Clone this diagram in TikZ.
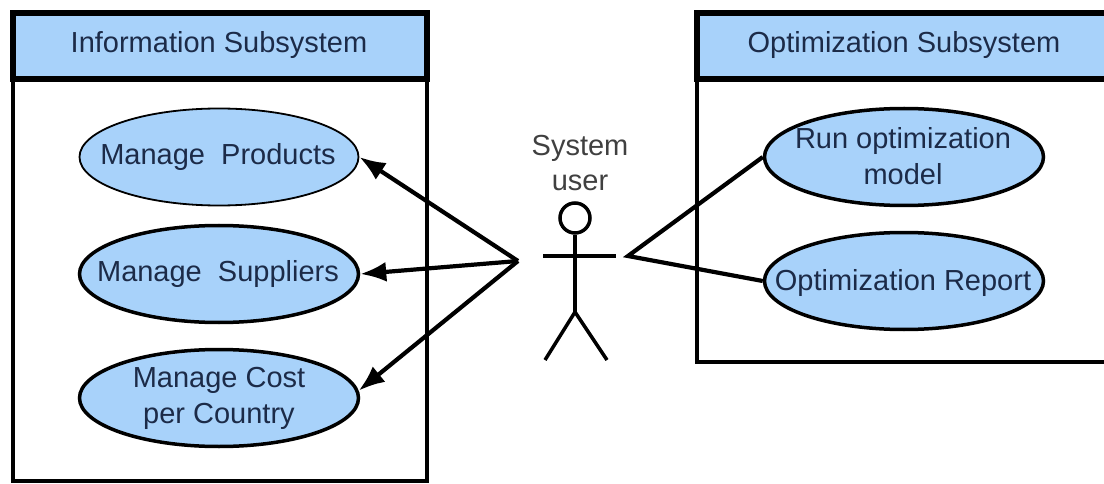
\documentclass[tikz,border=0pt]{standalone}
\usepackage{fontspec}
\setmainfont{Liberation Sans}
\usetikzlibrary{arrows.meta,shapes.geometric}
\definecolor{blueFill}{HTML}{A8D2FA}
\definecolor{inkText}{HTML}{1C2B48}
\tikzset{
  x=1pt,y=-1pt,
  uc/.style={ellipse,draw=black,fill=blueFill,line width=#1,minimum width=279pt,minimum height=97pt,inner sep=0pt},
  uc/.default=3.5pt,
  uctext/.style={align=center,text=inkText,font=\fontsize{29}{36}\selectfont,inner sep=0pt},
  hdr/.style={text=inkText,font=\fontsize{29}{34}\selectfont,anchor=center},
  sysframe/.style={draw=black,line width=3.5pt,fill=white},
  hdrband/.style={draw=black,line width=5.5pt,fill=blueFill},
  link/.style={draw=black,line width=4.2pt},
  assoc/.style={link,-{Latex[length=26pt,width=20pt]}},
  person/.style={draw=black,line width=3.5pt},
  lbl/.style={text=black!75,font=\fontsize{29}{35}\selectfont,align=center}
}
\begin{document}
\begin{tikzpicture}
\useasboundingbox (0,0) rectangle (1104,484);
% Information subsystem
\draw[sysframe] (13,14) rectangle (427,481);
\draw[hdrband] (13,13) rectangle (427,79);
\node[hdr] (infoT) at (219,45) {Information Subsystem};
\node[uc=1.8pt] (prod) at (219,157) {};
\node[uc] (supp) at (219,274) {};
\node[uc] (cost) at (219,398) {};
\node[uctext] (prodT) at (218,157) {Manage\ \ Products};
\node[uctext] (suppT) at (218,274) {Manage\ \ Suppliers};
\node[uctext] (costT) at (219,398) {Manage Cost\\per Country};
% Optimization subsystem
\draw[sysframe] (697,14) rectangle (1120,362);
\draw[hdrband] (697,13) rectangle (1120,79);
\node[hdr] (optT) at (904,45) {Optimization Subsystem};
% Actor
\node[lbl] (actorL) at (580,163) {System\\user};
\node[circle,person,minimum size=30pt,inner sep=0pt] (head) at (575,218) {};
\coordinate (hip) at (575,312);
\coordinate (armL) at (543,256);
\coordinate (armR) at (616,256);
\coordinate (footL) at (545,360);
\coordinate (footR) at (607,360);
\draw[person] (head) -- (hip);
\draw[person] (armL) -- (armR);
\draw[person] (footL) -- (hip) -- (footR);
% Connectors
\coordinate (apexL) at (518,261);
\coordinate (apexR) at (628,256);
\draw[assoc] (apexL) -- (prod.east);
\draw[assoc] (apexL) -- (supp.east);
\draw[assoc] (apexL) -- (cost.3);
\node[uc] (run) at (904,157) {};
\node[uc] (rep) at (904,281) {};
\node[uctext] (runT) at (903,156) {Run optimization\\model};
\node[uctext] (repT) at (903,283) {Optimization Report};
\draw[link,line join=miter] (run.west) -- (apexR) -- (rep.west);
\end{tikzpicture}
\end{document}
